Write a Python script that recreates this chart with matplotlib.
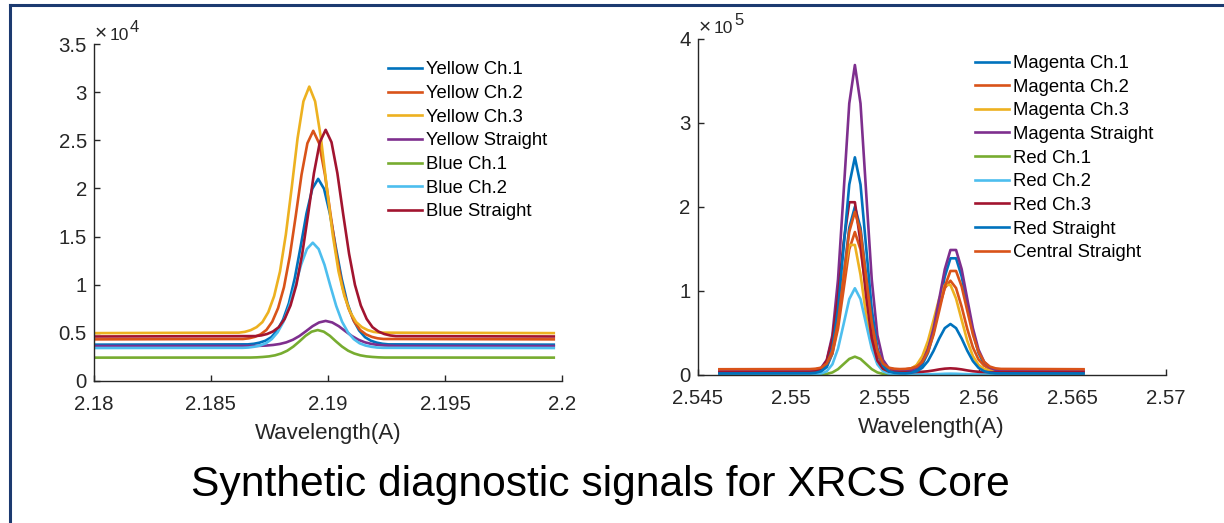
import matplotlib
matplotlib.use("Agg")
import matplotlib.pyplot as plt
from matplotlib.lines import Line2D
from matplotlib.ticker import FixedLocator, FixedFormatter

plt.rcParams['font.family'] = ['Liberation Sans', 'DejaVu Sans']

# ---------------- Left panel data (intensity in units of 1e4) ----------------
yellow_ch1_x = [2.18, 2.18658, 2.18683, 2.18708, 2.18733, 2.18758, 2.18783, 2.18808, 2.18833, 2.18858, 2.18883, 2.18908, 2.18933, 2.18958, 2.18983, 2.19008, 2.19033, 2.19058, 2.19083, 2.19108, 2.19133, 2.19158, 2.19183, 2.19208, 2.19233, 2.19258, 2.19964]
yellow_ch1_y = [0.375, 0.378, 0.384, 0.396, 0.416, 0.453, 0.522, 0.634, 0.806, 1.065, 1.393, 1.738, 1.997, 2.100, 1.997, 1.738, 1.393, 1.065, 0.806, 0.634, 0.522, 0.453, 0.416, 0.396, 0.384, 0.378, 0.375]

yellow_ch2_x = [2.18, 2.18637, 2.18662, 2.18687, 2.18712, 2.18737, 2.18762, 2.18787, 2.18812, 2.18837, 2.18862, 2.18887, 2.18912, 2.18937, 2.18962, 2.18987, 2.19012, 2.19037, 2.19062, 2.19087, 2.19112, 2.19137, 2.19162, 2.19187, 2.19212, 2.19237, 2.19964]
yellow_ch2_y = [0.43, 0.434, 0.441, 0.456, 0.482, 0.528, 0.614, 0.756, 0.973, 1.298, 1.710, 2.144, 2.470, 2.600, 2.470, 2.144, 1.710, 1.298, 0.973, 0.756, 0.614, 0.528, 0.482, 0.456, 0.441, 0.434, 0.43]

yellow_ch3_x = [2.18, 2.18620, 2.18645, 2.18670, 2.18695, 2.18720, 2.18745, 2.18770, 2.18795, 2.18820, 2.18845, 2.18870, 2.18895, 2.18920, 2.18945, 2.18970, 2.18995, 2.19020, 2.19045, 2.19070, 2.19095, 2.19120, 2.19145, 2.19170, 2.19195, 2.19220, 2.19964]
yellow_ch3_y = [0.495, 0.500, 0.508, 0.526, 0.557, 0.610, 0.713, 0.880, 1.136, 1.521, 2.008, 2.521, 2.906, 3.060, 2.906, 2.521, 2.008, 1.521, 1.136, 0.880, 0.713, 0.610, 0.557, 0.526, 0.508, 0.500, 0.495]

yellow_straight_x = [2.18, 2.18654, 2.18682, 2.18710, 2.18738, 2.18766, 2.18794, 2.18822, 2.18850, 2.18878, 2.18906, 2.18934, 2.18962, 2.18990, 2.19018, 2.19046, 2.19074, 2.19102, 2.19130, 2.19158, 2.19186, 2.19214, 2.19242, 2.19270, 2.19298, 2.19326, 2.19964]
yellow_straight_y = [0.36, 0.361, 0.361, 0.363, 0.366, 0.372, 0.382, 0.399, 0.426, 0.465, 0.515, 0.567, 0.606, 0.622, 0.606, 0.567, 0.515, 0.465, 0.426, 0.399, 0.382, 0.372, 0.366, 0.363, 0.361, 0.361, 0.36]

blue_ch1_x = [2.18, 2.18644, 2.18670, 2.18696, 2.18722, 2.18748, 2.18774, 2.18800, 2.18826, 2.18852, 2.18878, 2.18904, 2.18930, 2.18956, 2.18982, 2.19008, 2.19034, 2.19060, 2.19086, 2.19112, 2.19138, 2.19164, 2.19190, 2.19216, 2.19242, 2.19268, 2.19964]
blue_ch1_y = [0.24, 0.241, 0.241, 0.243, 0.247, 0.253, 0.264, 0.283, 0.312, 0.355, 0.409, 0.467, 0.510, 0.527, 0.510, 0.467, 0.409, 0.355, 0.312, 0.283, 0.264, 0.253, 0.247, 0.243, 0.241, 0.241, 0.24]

blue_ch2_x = [2.18, 2.18635, 2.18660, 2.18685, 2.18710, 2.18735, 2.18760, 2.18785, 2.18810, 2.18835, 2.18860, 2.18885, 2.18910, 2.18935, 2.18960, 2.18985, 2.19010, 2.19035, 2.19060, 2.19085, 2.19110, 2.19135, 2.19160, 2.19185, 2.19210, 2.19235, 2.19964]
blue_ch2_y = [0.34, 0.342, 0.345, 0.353, 0.366, 0.389, 0.433, 0.504, 0.614, 0.778, 0.987, 1.206, 1.370, 1.436, 1.370, 1.206, 0.987, 0.778, 0.614, 0.504, 0.433, 0.389, 0.366, 0.353, 0.345, 0.342, 0.34]

blue_straight_x = [2.18, 2.18690, 2.18715, 2.18740, 2.18765, 2.18790, 2.18815, 2.18840, 2.18865, 2.18890, 2.18915, 2.18940, 2.18965, 2.18990, 2.19015, 2.19040, 2.19065, 2.19090, 2.19115, 2.19140, 2.19165, 2.19190, 2.19215, 2.19240, 2.19265, 2.19290, 2.19964]
blue_straight_y = [0.46, 0.464, 0.471, 0.486, 0.512, 0.557, 0.643, 0.783, 0.998, 1.320, 1.729, 2.159, 2.481, 2.610, 2.481, 2.159, 1.729, 1.320, 0.998, 0.783, 0.643, 0.557, 0.512, 0.486, 0.471, 0.464, 0.46]

left_labels = ["Yellow Ch.1", "Yellow Ch.2", "Yellow Ch.3", "Yellow Straight",
               "Blue Ch.1", "Blue Ch.2", "Blue Straight"]
left_series = [(yellow_ch1_x, yellow_ch1_y), (yellow_ch2_x, yellow_ch2_y),
               (yellow_ch3_x, yellow_ch3_y), (yellow_straight_x, yellow_straight_y),
               (blue_ch1_x, blue_ch1_y), (blue_ch2_x, blue_ch2_y),
               (blue_straight_x, blue_straight_y)]
left_xticks = [2.18, 2.185, 2.19, 2.195, 2.2]
left_xticklabels = ["2.18", "2.185", "2.19", "2.195", "2.2"]
left_yticks = [0, 0.5, 1, 1.5, 2, 2.5, 3, 3.5]
left_yticklabels = ["0", "0.5", "1", "1.5", "2", "2.5", "3", "3.5"]
left_exponent = "4"

# ---------------- Right panel data (intensity in units of 1e5) ----------------
right_x = [2.54617, 2.5510, 2.5513, 2.5516, 2.5519, 2.5522, 2.5525, 2.5528, 2.5531, 2.5534,
           2.5537, 2.5540, 2.5543, 2.5546, 2.5549, 2.5552, 2.5555, 2.5558, 2.5561, 2.5564,
           2.5567, 2.5570, 2.5573, 2.5576, 2.5579, 2.5582, 2.5585, 2.5588, 2.5591, 2.5594,
           2.5597, 2.5600, 2.5603, 2.5606, 2.5609, 2.5612, 2.5656]

magenta_ch1 = [0.020, 0.022, 0.026, 0.040, 0.091, 0.252, 0.612, 1.178, 1.751, 2.000, 1.751, 1.178, 0.612, 0.252, 0.091, 0.040, 0.026, 0.022,
               0.024, 0.033, 0.058, 0.122, 0.260, 0.502, 0.832, 1.170, 1.387, 1.387, 1.170, 0.832, 0.502, 0.260, 0.122, 0.058, 0.033, 0.024, 0.020]
magenta_ch2 = [0.060, 0.062, 0.065, 0.076, 0.119, 0.252, 0.550, 1.019, 1.493, 1.700, 1.493, 1.019, 0.550, 0.252, 0.119, 0.076, 0.065, 0.063,
               0.064, 0.075, 0.107, 0.181, 0.324, 0.545, 0.809, 1.032, 1.120, 1.032, 0.809, 0.545, 0.324, 0.181, 0.107, 0.075, 0.064, 0.061, 0.060]
magenta_ch3 = [0.040, 0.042, 0.048, 0.070, 0.143, 0.340, 0.713, 1.191, 1.546, 1.546, 1.191, 0.713, 0.340, 0.143, 0.070, 0.048, 0.042,
               0.043, 0.049, 0.068, 0.117, 0.221, 0.403, 0.652, 0.907, 1.070, 1.070, 0.907, 0.652, 0.403, 0.221, 0.117, 0.068, 0.049, 0.043, 0.041, 0.040]
magenta_straight = [0.045, 0.049, 0.056, 0.081, 0.176, 0.471, 1.135, 2.177, 3.232, 3.690, 3.232, 2.177, 1.135, 0.471, 0.176, 0.081, 0.056, 0.049,
                    0.049, 0.058, 0.085, 0.153, 0.298, 0.553, 0.901, 1.257, 1.486, 1.486, 1.257, 0.901, 0.553, 0.298, 0.153, 0.085, 0.058, 0.049, 0.045]
red_ch1 = [0.002, 0.002, 0.003, 0.004, 0.010, 0.027, 0.066, 0.127, 0.188, 0.215, 0.188, 0.127, 0.066, 0.027, 0.010, 0.004, 0.003, 0.002,
           0.002, 0.002, 0.002, 0.002, 0.002, 0.002, 0.002, 0.002, 0.002, 0.002, 0.002, 0.002, 0.002, 0.002, 0.002, 0.002, 0.002, 0.002, 0.002]
red_ch2 = [0.004, 0.005, 0.007, 0.014, 0.041, 0.124, 0.311, 0.604, 0.901, 1.030, 0.901, 0.604, 0.311, 0.124, 0.041, 0.014, 0.007, 0.005,
           0.004, 0.004, 0.004, 0.004, 0.005, 0.006, 0.008, 0.011, 0.012, 0.011, 0.008, 0.006, 0.005, 0.004, 0.004, 0.004, 0.004, 0.004, 0.004]
red_ch3 = [0.030, 0.032, 0.040, 0.070, 0.168, 0.434, 0.935, 1.577, 2.055, 2.055, 1.577, 0.935, 0.434, 0.168, 0.070, 0.040, 0.032, 0.030,
           0.030, 0.030, 0.032, 0.035, 0.041, 0.051, 0.063, 0.072, 0.076, 0.072, 0.063, 0.051, 0.041, 0.035, 0.032, 0.030, 0.030, 0.030, 0.030]
red_straight = [0.015, 0.018, 0.023, 0.041, 0.108, 0.316, 0.785, 1.521, 2.266, 2.590, 2.266, 1.521, 0.785, 0.316, 0.108, 0.041, 0.023, 0.018,
                0.017, 0.023, 0.041, 0.082, 0.162, 0.285, 0.431, 0.555, 0.604, 0.555, 0.431, 0.285, 0.162, 0.082, 0.041, 0.023, 0.017, 0.016, 0.015]
central_straight = [0.065, 0.067, 0.071, 0.084, 0.133, 0.284, 0.626, 1.162, 1.704, 1.940, 1.704, 1.162, 0.626, 0.284, 0.133, 0.084, 0.071, 0.067,
                    0.069, 0.076, 0.097, 0.152, 0.271, 0.478, 0.760, 1.050, 1.236, 1.236, 1.050, 0.760, 0.478, 0.271, 0.152, 0.097, 0.076, 0.069, 0.065]

right_labels = ["Magenta Ch.1", "Magenta Ch.2", "Magenta Ch.3", "Magenta Straight",
                "Red Ch.1", "Red Ch.2", "Red Ch.3", "Red Straight", "Central Straight"]
right_series = [magenta_ch1, magenta_ch2, magenta_ch3, magenta_straight,
                red_ch1, red_ch2, red_ch3, red_straight, central_straight]
right_xticks = [2.545, 2.55, 2.555, 2.56, 2.565, 2.57]
right_xticklabels = ["2.545", "2.55", "2.555", "2.56", "2.565", "2.57"]
right_yticks = [0, 1, 2, 3, 4]
right_yticklabels = ["0", "1", "2", "3", "4"]
right_exponent = "5"

title_text = "Synthetic diagnostic signals for XRCS Core"
xlabel_text = "Wavelength(A)"

# ---------------- styling ----------------
matlab_colors = ['#0072BD', '#D95319', '#EDB120', '#7E2F8E', '#77AC30', '#4DBEEE', '#A2142F']
W, H = 1224, 523
AX_COLOR = '#262626'
FRAME = '#1C3A70'

fig = plt.figure(figsize=(W / 100, H / 100), dpi=100)
fig.patch.set_facecolor('white')


def px_axes(x0, y0, x1, y1):
    return fig.add_axes([x0 / W, 1 - y1 / H, (x1 - x0) / W, (y1 - y0) / H])


def style(ax, xlim, ylim, xt, xtl, yt, ytl):
    ax.set_xlim(*xlim)
    ax.set_ylim(*ylim)
    ax.xaxis.set_major_locator(FixedLocator(xt))
    ax.xaxis.set_major_formatter(FixedFormatter(xtl))
    ax.yaxis.set_major_locator(FixedLocator(yt))
    ax.yaxis.set_major_formatter(FixedFormatter(ytl))
    for s in ('top', 'right'):
        ax.spines[s].set_visible(False)
    for s in ('left', 'bottom'):
        ax.spines[s].set_color(AX_COLOR)
        ax.spines[s].set_linewidth(1.0)
    ax.tick_params(axis='both', direction='in', length=4, width=1.0,
                   colors=AX_COLOR, labelsize=14.7)
    ax.tick_params(axis='x', pad=10.5)
    ax.tick_params(axis='y', pad=5)
    ax.set_xlabel(xlabel_text, fontsize=16, color=AX_COLOR, labelpad=6)


def exponent_label(x_times, x_ten, x_sup, base_y, sup_y, exp_txt):
    fig.text(x_times / W, 1 - (base_y - 0.5) / H, "\u00d7", fontsize=15, color=AX_COLOR,
             ha='left', va='baseline')
    fig.text(x_ten / W, 1 - base_y / H, "10", fontsize=12.5, color=AX_COLOR,
             ha='left', va='baseline')
    fig.text(x_sup / W, 1 - sup_y / H, exp_txt, fontsize=12, color=AX_COLOR,
             ha='left', va='baseline')


# Left axes
axL = px_axes(93.8, 44.3, 562.2, 380.7)
for i, ((xs, ys), lab) in enumerate(zip(left_series, left_labels)):
    axL.plot(xs, ys, color=matlab_colors[i % 7], lw=1.9, label=lab)
style(axL, (2.18, 2.2), (0, 3.5), left_xticks, left_xticklabels, left_yticks, left_yticklabels)
exponent_label(94.5, 109.5, 129.5, 39.5, 31.5, left_exponent)
axL.legend(loc='upper left', bbox_to_anchor=((388.4 - 93.8) / 468.4, (380.7 - 61.5) / 336.4),
           frameon=False, fontsize=13.3, handlelength=1.84, handletextpad=0.22,
           labelspacing=0.36, borderpad=0, borderaxespad=0)

# Right axes
axR = px_axes(697.5, 39.0, 1165.9, 374.7)
for i, (ys, lab) in enumerate(zip(right_series, right_labels)):
    axR.plot(right_x, ys, color=matlab_colors[i % 7], lw=1.9, label=lab)
style(axR, (2.545, 2.57), (0, 4), right_xticks, right_xticklabels, right_yticks, right_yticklabels)
exponent_label(698.5, 713.5, 734.5, 33.3, 25.0, right_exponent)
axR.legend(loc='upper left', bbox_to_anchor=((975.2 - 697.5) / 468.4, (374.7 - 55.0) / 335.7),
           frameon=False, fontsize=13.3, handlelength=1.84, handletextpad=0.22,
           labelspacing=0.36, borderpad=0, borderaxespad=0)

# Slide title
fig.text(600 / W, 1 - 496 / H, title_text, fontsize=30.7, color='black',
         ha='center', va='baseline')

# Slide frame (top and left dark blue rules)
fig.add_artist(Line2D([9.6 / W, 1.0], [1 - 5 / H, 1 - 5 / H], color=FRAME, lw=2.2,
                      transform=fig.transFigure))
fig.add_artist(Line2D([9.6 / W, 9.6 / W], [0, 1 - 5 / H], color=FRAME, lw=2.2,
                      transform=fig.transFigure))

fig.savefig('out.png', dpi=100)
